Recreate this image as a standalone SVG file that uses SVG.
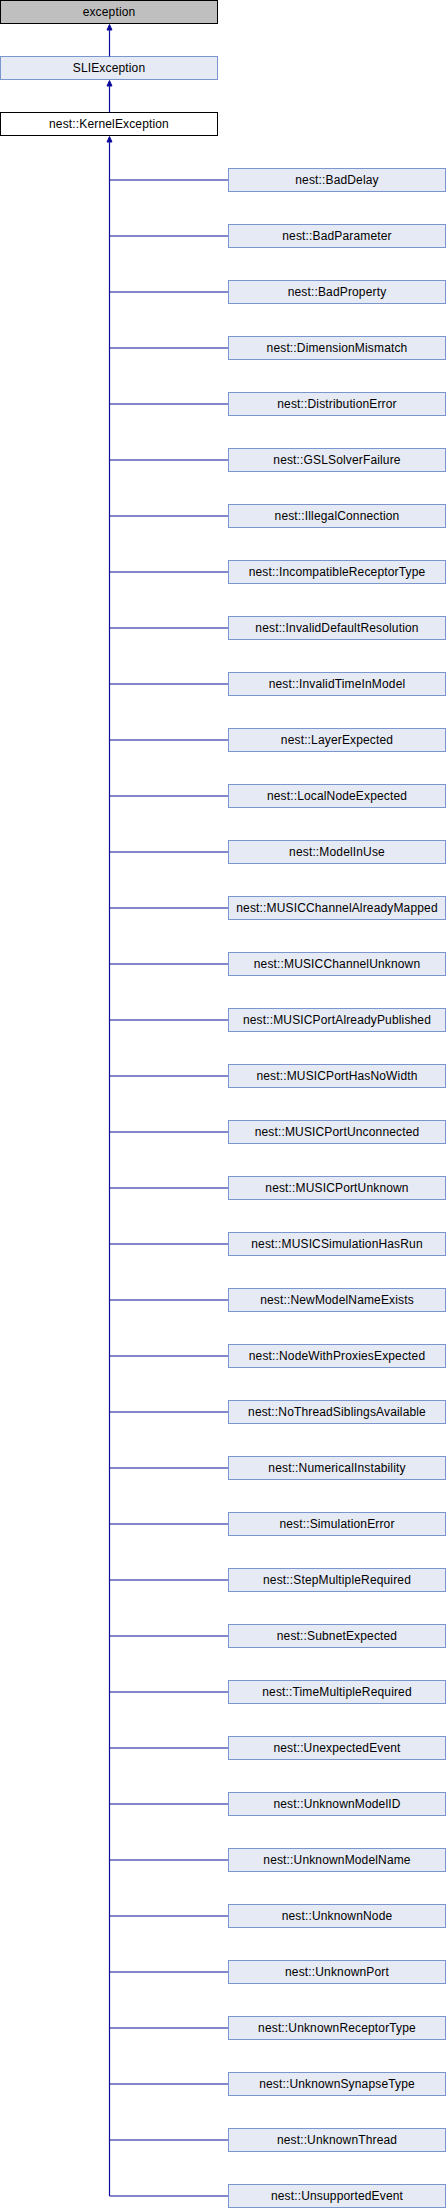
<svg xmlns="http://www.w3.org/2000/svg" width="446" height="2208" viewBox="0 0 446 2208">
<style>
.n rect{fill:#e6eaf4;stroke:#7b96cf;stroke-width:1}
.g rect{fill:#bfbfbf;stroke:#000;stroke-width:1}
.k rect{fill:#fff;stroke:#000;stroke-width:1}
text{font-family:"Liberation Sans",Arial,sans-serif;font-size:12px;letter-spacing:0.15px;fill:#000;text-anchor:middle}
.e{stroke:#0c0c99;stroke-width:1.2;fill:none}
.a{fill:#0c0c99;stroke:#0c0c99;stroke-width:1}
</style>
<rect width="446" height="2208" fill="#fff"/>
<g id="exception" class="g"><rect x="0.5" y="0.5" width="217" height="23"/><text x="109" y="15.5">exception</text></g>
<g id="SLIException" class="n"><rect x="0.5" y="56.5" width="217" height="23"/><text x="109" y="71.5">SLIException</text></g>
<g id="KernelException" class="k"><rect x="0.5" y="112.5" width="217" height="23"/><text x="109" y="127.5">nest::KernelException</text></g>
<g id="connectors">
<path class="e" d="M109.5 30V56.5M109.5 86V112.5M109.5 141V2196"/>
<path class="a" d="M109.5 24.5L112 30H107Z"/>
<path class="a" d="M109.5 80.5L112 86H107Z"/>
<path class="a" d="M109.5 136.5L112 142H107Z"/>
<path class="e" d="M109.5 180H228.5M109.5 236H228.5M109.5 292H228.5M109.5 348H228.5M109.5 404H228.5M109.5 460H228.5M109.5 516H228.5M109.5 572H228.5M109.5 628H228.5M109.5 684H228.5M109.5 740H228.5M109.5 796H228.5M109.5 852H228.5M109.5 908H228.5M109.5 964H228.5M109.5 1020H228.5M109.5 1076H228.5M109.5 1132H228.5M109.5 1188H228.5M109.5 1244H228.5M109.5 1300H228.5M109.5 1356H228.5M109.5 1412H228.5M109.5 1468H228.5M109.5 1524H228.5M109.5 1580H228.5M109.5 1636H228.5M109.5 1692H228.5M109.5 1748H228.5M109.5 1804H228.5M109.5 1860H228.5M109.5 1916H228.5M109.5 1972H228.5M109.5 2028H228.5M109.5 2084H228.5M109.5 2140H228.5M109.5 2196H228.5"/>
</g>
<g id="BadDelay" class="n"><rect x="228.5" y="168.5" width="217" height="23"/><text x="337" y="183.5">nest::BadDelay</text></g>
<g id="BadParameter" class="n"><rect x="228.5" y="224.5" width="217" height="23"/><text x="337" y="239.5">nest::BadParameter</text></g>
<g id="BadProperty" class="n"><rect x="228.5" y="280.5" width="217" height="23"/><text x="337" y="295.5">nest::BadProperty</text></g>
<g id="DimensionMismatch" class="n"><rect x="228.5" y="336.5" width="217" height="23"/><text x="337" y="351.5">nest::DimensionMismatch</text></g>
<g id="DistributionError" class="n"><rect x="228.5" y="392.5" width="217" height="23"/><text x="337" y="407.5">nest::DistributionError</text></g>
<g id="GSLSolverFailure" class="n"><rect x="228.5" y="448.5" width="217" height="23"/><text x="337" y="463.5">nest::GSLSolverFailure</text></g>
<g id="IllegalConnection" class="n"><rect x="228.5" y="504.5" width="217" height="23"/><text x="337" y="519.5">nest::IllegalConnection</text></g>
<g id="IncompatibleReceptorType" class="n"><rect x="228.5" y="560.5" width="217" height="23"/><text x="337" y="575.5">nest::IncompatibleReceptorType</text></g>
<g id="InvalidDefaultResolution" class="n"><rect x="228.5" y="616.5" width="217" height="23"/><text x="337" y="631.5">nest::InvalidDefaultResolution</text></g>
<g id="InvalidTimeInModel" class="n"><rect x="228.5" y="672.5" width="217" height="23"/><text x="337" y="687.5">nest::InvalidTimeInModel</text></g>
<g id="LayerExpected" class="n"><rect x="228.5" y="728.5" width="217" height="23"/><text x="337" y="743.5">nest::LayerExpected</text></g>
<g id="LocalNodeExpected" class="n"><rect x="228.5" y="784.5" width="217" height="23"/><text x="337" y="799.5">nest::LocalNodeExpected</text></g>
<g id="ModelInUse" class="n"><rect x="228.5" y="840.5" width="217" height="23"/><text x="337" y="855.5">nest::ModelInUse</text></g>
<g id="MUSICChannelAlreadyMapped" class="n"><rect x="228.5" y="896.5" width="217" height="23"/><text x="337" y="911.5">nest::MUSICChannelAlreadyMapped</text></g>
<g id="MUSICChannelUnknown" class="n"><rect x="228.5" y="952.5" width="217" height="23"/><text x="337" y="967.5">nest::MUSICChannelUnknown</text></g>
<g id="MUSICPortAlreadyPublished" class="n"><rect x="228.5" y="1008.5" width="217" height="23"/><text x="337" y="1023.5">nest::MUSICPortAlreadyPublished</text></g>
<g id="MUSICPortHasNoWidth" class="n"><rect x="228.5" y="1064.5" width="217" height="23"/><text x="337" y="1079.5">nest::MUSICPortHasNoWidth</text></g>
<g id="MUSICPortUnconnected" class="n"><rect x="228.5" y="1120.5" width="217" height="23"/><text x="337" y="1135.5">nest::MUSICPortUnconnected</text></g>
<g id="MUSICPortUnknown" class="n"><rect x="228.5" y="1176.5" width="217" height="23"/><text x="337" y="1191.5">nest::MUSICPortUnknown</text></g>
<g id="MUSICSimulationHasRun" class="n"><rect x="228.5" y="1232.5" width="217" height="23"/><text x="337" y="1247.5">nest::MUSICSimulationHasRun</text></g>
<g id="NewModelNameExists" class="n"><rect x="228.5" y="1288.5" width="217" height="23"/><text x="337" y="1303.5">nest::NewModelNameExists</text></g>
<g id="NodeWithProxiesExpected" class="n"><rect x="228.5" y="1344.5" width="217" height="23"/><text x="337" y="1359.5">nest::NodeWithProxiesExpected</text></g>
<g id="NoThreadSiblingsAvailable" class="n"><rect x="228.5" y="1400.5" width="217" height="23"/><text x="337" y="1415.5">nest::NoThreadSiblingsAvailable</text></g>
<g id="NumericalInstability" class="n"><rect x="228.5" y="1456.5" width="217" height="23"/><text x="337" y="1471.5">nest::NumericalInstability</text></g>
<g id="SimulationError" class="n"><rect x="228.5" y="1512.5" width="217" height="23"/><text x="337" y="1527.5">nest::SimulationError</text></g>
<g id="StepMultipleRequired" class="n"><rect x="228.5" y="1568.5" width="217" height="23"/><text x="337" y="1583.5">nest::StepMultipleRequired</text></g>
<g id="SubnetExpected" class="n"><rect x="228.5" y="1624.5" width="217" height="23"/><text x="337" y="1639.5">nest::SubnetExpected</text></g>
<g id="TimeMultipleRequired" class="n"><rect x="228.5" y="1680.5" width="217" height="23"/><text x="337" y="1695.5">nest::TimeMultipleRequired</text></g>
<g id="UnexpectedEvent" class="n"><rect x="228.5" y="1736.5" width="217" height="23"/><text x="337" y="1751.5">nest::UnexpectedEvent</text></g>
<g id="UnknownModelID" class="n"><rect x="228.5" y="1792.5" width="217" height="23"/><text x="337" y="1807.5">nest::UnknownModelID</text></g>
<g id="UnknownModelName" class="n"><rect x="228.5" y="1848.5" width="217" height="23"/><text x="337" y="1863.5">nest::UnknownModelName</text></g>
<g id="UnknownNode" class="n"><rect x="228.5" y="1904.5" width="217" height="23"/><text x="337" y="1919.5">nest::UnknownNode</text></g>
<g id="UnknownPort" class="n"><rect x="228.5" y="1960.5" width="217" height="23"/><text x="337" y="1975.5">nest::UnknownPort</text></g>
<g id="UnknownReceptorType" class="n"><rect x="228.5" y="2016.5" width="217" height="23"/><text x="337" y="2031.5">nest::UnknownReceptorType</text></g>
<g id="UnknownSynapseType" class="n"><rect x="228.5" y="2072.5" width="217" height="23"/><text x="337" y="2087.5">nest::UnknownSynapseType</text></g>
<g id="UnknownThread" class="n"><rect x="228.5" y="2128.5" width="217" height="23"/><text x="337" y="2143.5">nest::UnknownThread</text></g>
<g id="UnsupportedEvent" class="n"><rect x="228.5" y="2184.5" width="217" height="23"/><text x="337" y="2199.5">nest::UnsupportedEvent</text></g>
</svg>
